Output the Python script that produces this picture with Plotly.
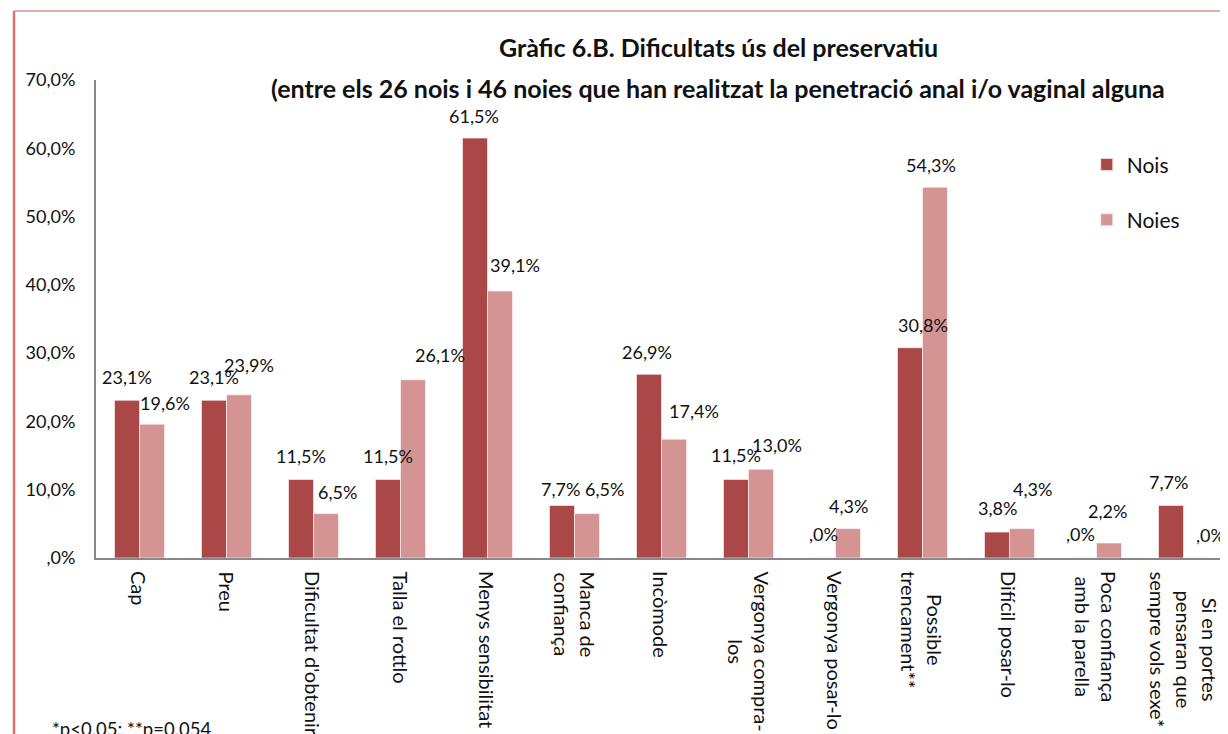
import plotly.graph_objects as go

categories = [
    "Cap", "Preu", "Dificultat d'obtenir", "Talla el rottlo", "Menys sensibilitat",
    "Manca de<br>confiança", "Incòmode", "Vergonya compra-<br>los", "Vergonya posar-lo",
    "Possible<br>trencament**", "Difícil posar-lo", "Poca confiança<br>amb la parella",
    "Si en portes<br>pensaran que<br>sempre vols sexe*",
]
nois = [23.1, 23.1, 11.5, 11.5, 61.5, 7.7, 26.9, 11.5, 0.0, 30.8, 3.8, 0.0, 7.7]
noies = [19.6, 23.9, 6.5, 26.1, 39.1, 6.5, 17.4, 13.0, 4.3, 54.3, 4.3, 2.2, 0.0]
y_ticks = [0, 10, 20, 30, 40, 50, 60, 70]

title_1 = "Gràfic 6.B. Dificultats ús del preservatiu"
title_2 = "(entre els 26 nois i 46 noies que han realitzat la penetració anal i/o vaginal alguna"
footnote = "*p<0.05; **p=0.054"

# label placement tweaks (pixels), mimicking the hand-placed labels
nois_dx = [0, 0, 0, 0, -1, -2, -2, 0, 0, 13, 0, -4, -3]
nois_dy = [23, 23, 23, 23, 22, 16, 22, 24, 24, 23, 24, 24, 23]
noies_dx = [13, 10, 11, 27, 15, 17, 20, 16, 0, -4, 10, -2, 14]
noies_dy = [21, 30, 22, 25, 26, 25, 28, 24, 23, 22, 40, 32, 23]

FONT = "Lato, 'Open Sans', sans-serif"
C_NOIS = "#AA4747"
C_NOIES = "#D49494"
TXT = "#111111"


def pct(v):
    s = f"{v:.1f}".replace(".", ",")
    if s.startswith("0,"):
        s = s[1:]
    return s + "%"


xs = list(range(len(categories)))

fig = go.Figure()
fig.add_bar(x=xs, y=nois, name="Nois",
            marker=dict(color=C_NOIS, line=dict(color="rgba(255,235,235,0.7)", width=1)),
            legendgroup="a", hoverinfo="skip")
fig.add_bar(x=xs, y=noies, name="Noies",
            marker=dict(color=C_NOIES, line=dict(color="rgba(255,240,240,0.7)", width=1)),
            legendgroup="b", hoverinfo="skip")

annotations = []
for i in xs:
    annotations.append(dict(x=i, y=nois[i], xref="x", yref="y", text=pct(nois[i]), showarrow=False,
                            xshift=-12.5 + nois_dx[i], yshift=nois_dy[i], yanchor="middle", xanchor="center",
                            font=dict(family=FONT, size=18, color=TXT)))
    annotations.append(dict(x=i, y=noies[i], xref="x", yref="y", text=pct(noies[i]), showarrow=False,
                            xshift=12.5 + noies_dx[i], yshift=noies_dy[i], yanchor="middle", xanchor="center",
                            font=dict(family=FONT, size=18, color=TXT)))
    annotations.append(dict(x=i, y=0, xref="x", yref="paper", text=categories[i], showarrow=False,
                            textangle=90, xanchor="center", yanchor="top", yshift=-11, align="center",
                            font=dict(family=FONT, size=20, color=TXT)))

annotations.append(dict(x=0.55, y=1.069, xref="paper", yref="paper", text="<b>" + title_1 + "</b>",
                        showarrow=False, xanchor="center", yanchor="middle",
                        font=dict(family=FONT, size=25, color=TXT)))
annotations.append(dict(x=0.55, y=0.983, xref="paper", yref="paper", text="<b>" + title_2 + "</b>",
                        showarrow=False, xanchor="center", yanchor="middle",
                        font=dict(family=FONT, size=25, color=TXT)))
annotations.append(dict(x=-0.0407, y=-0.358, xref="paper", yref="paper", text=footnote, showarrow=False,
                        xanchor="left", yanchor="middle", font=dict(family=FONT, size=18.5, color=TXT)))

shapes = [
    dict(type="line", xref="paper", yref="paper", x0=-0.0725, x1=1.01, y0=1.1444, y1=1.1444,
         line=dict(color="#C0605C", width=1.2)),
    dict(type="line", xref="paper", yref="paper", x0=-0.0725, x1=-0.0725, y0=1.1444, y1=-0.5,
         line=dict(color="#E07070", width=2.5)),
]

# the page body adds an 8px offset, so the figure is 8px smaller on each axis
fig.update_layout(
    width=1220, height=726,
    margin=dict(l=88, r=1, t=72, b=176),
    paper_bgcolor="white", plot_bgcolor="white",
    barmode="group", bargap=0.425, bargroupgap=0,
    font=dict(family=FONT, size=18, color=TXT),
    showlegend=True,
    legend=dict(x=0.876, y=0.8655, xanchor="left", yanchor="top", tracegroupgap=25,
                font=dict(family=FONT, size=21, color=TXT), bgcolor="rgba(0,0,0,0)"),
    annotations=annotations,
    shapes=shapes,
    xaxis=dict(range=[-0.5, len(categories) - 0.5], showticklabels=False, ticks="",
               showline=True, linecolor="#888888", linewidth=2, showgrid=False, zeroline=False,
               fixedrange=True),
    yaxis=dict(range=[0, 70], tickvals=y_ticks, ticktext=[pct(v) for v in y_ticks], ticks="",
               showline=True, linecolor="#888888", linewidth=2, showgrid=False, zeroline=False,
               ticklabelstandoff=15, tickfont=dict(family=FONT, size=18, color=TXT),
               fixedrange=True),
)

fig.write_html("out.html")
